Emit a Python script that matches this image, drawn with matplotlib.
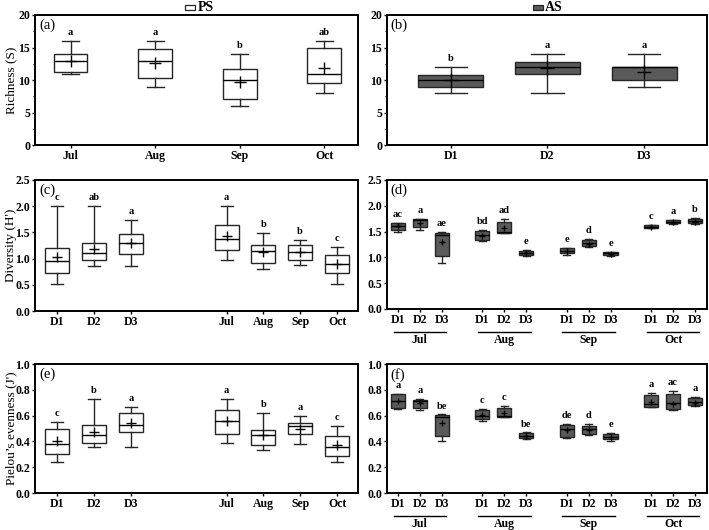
import matplotlib.pyplot as plt
from matplotlib.patches import Rectangle
from matplotlib.ticker import MultipleLocator
import matplotlib.transforms as mtransforms

plt.rcParams['font.family'] = ['Liberation Serif', 'DejaVu Serif']

months = ['Jul', 'Aug', 'Sep', 'Oct']
depths = ['D1', 'D2', 'D3']
mixed_labels = depths + months

# each row: whisker low, Q1, median, Q3, whisker high, mean
rich_ps = [[11, 11.3, 13, 14, 16, 13.0],
           [9, 10.3, 13, 14.7, 16, 12.6],
           [6, 7.1, 10, 11.7, 14, 9.7],
           [8, 9.5, 11, 15, 16, 11.8]]
rich_as = [[8, 9, 10, 10.8, 12, 10.0],
           [8, 11, 12, 12.7, 14, 11.8],
           [9, 10, 12, 12, 14, 11.3]]
rich_ps_letters = ['a', 'a', 'b', 'ab']
rich_as_letters = ['b', 'a', 'a']

# D1, D2, D3, Jul, Aug, Sep, Oct
div_ps = [[0.52, 0.73, 0.96, 1.21, 2.0, 1.03],
          [0.85, 0.98, 1.10, 1.30, 2.0, 1.18],
          [0.86, 1.08, 1.29, 1.46, 1.74, 1.29],
          [0.98, 1.17, 1.38, 1.65, 2.0, 1.43],
          [0.80, 0.92, 1.14, 1.26, 1.49, 1.13],
          [0.87, 0.97, 1.13, 1.26, 1.35, 1.12],
          [0.52, 0.72, 0.89, 1.06, 1.23, 0.89]]
div_ps_letters = ['c', 'ab', 'a', 'a', 'b', 'b', 'c']

# Jul D1-D3, Aug D1-D3, Sep D1-D3, Oct D1-D3
div_as = [[1.50, 1.53, 1.60, 1.66, 1.67, 1.61],
          [1.54, 1.59, 1.72, 1.74, 1.75, 1.67],
          [0.90, 1.02, 1.43, 1.48, 1.50, 1.29],
          [1.31, 1.34, 1.43, 1.51, 1.53, 1.41],
          [1.47, 1.48, 1.50, 1.68, 1.75, 1.56],
          [1.03, 1.04, 1.09, 1.13, 1.15, 1.08],
          [1.05, 1.08, 1.13, 1.18, 1.19, 1.12],
          [1.20, 1.22, 1.28, 1.34, 1.36, 1.25],
          [1.03, 1.04, 1.08, 1.10, 1.11, 1.07],
          [1.56, 1.57, 1.59, 1.62, 1.63, 1.59],
          [1.65, 1.66, 1.69, 1.72, 1.73, 1.68],
          [1.65, 1.66, 1.70, 1.74, 1.76, 1.69]]
div_as_letters = ['ac', 'a', 'ae', 'bd', 'ad', 'e', 'e', 'd', 'e', 'c', 'a', 'b']

even_ps = [[0.24, 0.30, 0.38, 0.50, 0.55, 0.40],
           [0.36, 0.39, 0.45, 0.53, 0.73, 0.47],
           [0.36, 0.47, 0.53, 0.62, 0.67, 0.54],
           [0.39, 0.46, 0.56, 0.64, 0.73, 0.56],
           [0.33, 0.37, 0.45, 0.49, 0.62, 0.45],
           [0.38, 0.46, 0.52, 0.54, 0.60, 0.50],
           [0.24, 0.29, 0.36, 0.44, 0.52, 0.37]]
even_ps_letters = ['c', 'b', 'a', 'a', 'b', 'a', 'c']

even_as = [[0.655, 0.657, 0.714, 0.765, 0.77, 0.71],
           [0.64, 0.657, 0.71, 0.72, 0.727, 0.696],
           [0.405, 0.443, 0.588, 0.606, 0.61, 0.54],
           [0.56, 0.572, 0.60, 0.64, 0.652, 0.605],
           [0.588, 0.588, 0.60, 0.662, 0.675, 0.62],
           [0.417, 0.423, 0.443, 0.464, 0.47, 0.44],
           [0.425, 0.438, 0.495, 0.528, 0.536, 0.49],
           [0.45, 0.459, 0.495, 0.52, 0.536, 0.485],
           [0.407, 0.415, 0.438, 0.456, 0.464, 0.435],
           [0.665, 0.665, 0.688, 0.76, 0.778, 0.709],
           [0.64, 0.65, 0.70, 0.768, 0.789, 0.69],
           [0.675, 0.68, 0.709, 0.735, 0.747, 0.70]]
even_as_letters = ['a', 'a', 'be', 'c', 'c', 'be', 'de', 'd', 'e', 'a', 'ac', 'a']

PS_FACE = 'white'
AS_FACE = '#5a5a5a'
EDGE = '#262626'

pos_4 = [0, 1, 2, 3]
pos_3 = [0, 1, 2]
pos_mixed = [0, 1, 2, 4.6, 5.6, 6.6, 7.6]
group_step = 3.85
pos_grouped = [g * group_step + i for g in range(4) for i in range(3)]


def draw_boxes(ax, rows, positions, width, face, msize, letters, ymax):
    stats = []
    for r in rows:
        stats.append(dict(whislo=r[0], q1=r[1], med=r[2], q3=r[3],
                          whishi=r[4], mean=r[5], fliers=[]))
    ax.bxp(stats, positions=positions, widths=width, patch_artist=True,
           showmeans=True, showfliers=False, capwidths=width * 0.5,
           boxprops=dict(facecolor=face, edgecolor=EDGE, linewidth=1.0),
           whiskerprops=dict(color=EDGE, linewidth=1.0),
           capprops=dict(color=EDGE, linewidth=1.0),
           medianprops=dict(color='black', linewidth=1.0),
           meanprops=dict(marker='+', markeredgecolor='black',
                          markersize=msize, markeredgewidth=1.0))
    for p, r, t in zip(positions, rows, letters):
        ax.text(p, r[4] + 0.045 * ymax, t, ha='center', va='baseline',
                fontsize=7.5, fontweight='bold')


def style(ax, ymax, major, minor, tag):
    ax.set_ylim(0, ymax)
    ax.yaxis.set_major_locator(MultipleLocator(major))
    if minor:
        ax.yaxis.set_minor_locator(MultipleLocator(minor))
    for s in ax.spines.values():
        s.set_linewidth(1.4)
    ax.tick_params(axis='both', which='major', direction='out', length=2.5,
                   width=1.0, labelsize=8.5, pad=1.0)
    ax.tick_params(axis='y', which='minor', direction='out', length=1.6, width=0.8)
    for lab in ax.get_xticklabels() + ax.get_yticklabels():
        lab.set_fontweight('bold')
    ax.text(0.012, 0.97, tag, transform=ax.transAxes, ha='left', va='top',
            fontsize=10.5)


fig = plt.figure(figsize=(7.09, 5.30), dpi=100)
lx, rx = 0.0494, 0.5458
lw, rw = 0.4556, 0.4514
ax_a = fig.add_axes([lx, 0.7264, lw, 0.2453])
ax_b = fig.add_axes([rx, 0.7264, rw, 0.2453])
ax_c = fig.add_axes([lx, 0.4132, lw, 0.2472])
ax_d = fig.add_axes([rx, 0.4170, rw, 0.2434])
ax_e = fig.add_axes([lx, 0.0698, lw, 0.2434])
ax_f = fig.add_axes([rx, 0.0698, rw, 0.2434])

# (a) richness PS
draw_boxes(ax_a, rich_ps, pos_4, 0.4, PS_FACE, 8, rich_ps_letters, 20)
ax_a.set_xlim(-0.42, 3.4)
ax_a.set_xticks(pos_4)
ax_a.set_xticklabels(months)
style(ax_a, 20, 5, 2.5, '(a)')
ax_a.set_ylabel('Richness (S)', fontsize=9.5)

# (b) richness AS
draw_boxes(ax_b, rich_as, pos_3, 0.67, AS_FACE, 10, rich_as_letters, 20)
ax_b.set_xlim(-0.66, 2.65)
ax_b.set_xticks(pos_3)
ax_b.set_xticklabels(depths)
style(ax_b, 20, 5, 2.5, '(b)')

# (c) diversity PS
draw_boxes(ax_c, div_ps, pos_mixed, 0.65, PS_FACE, 7, div_ps_letters, 2.5)
ax_c.set_xlim(-0.6, 8.17)
ax_c.set_xticks(pos_mixed)
ax_c.set_xticklabels(mixed_labels)
style(ax_c, 2.5, 0.5, None, '(c)')
ax_c.set_ylabel("Diversity (H')", fontsize=9.5)

# (e) evenness PS
draw_boxes(ax_e, even_ps, pos_mixed, 0.65, PS_FACE, 7, even_ps_letters, 1.0)
ax_e.set_xlim(-0.6, 8.17)
ax_e.set_xticks(pos_mixed)
ax_e.set_xticklabels(mixed_labels)
style(ax_e, 1.0, 0.2, None, '(e)')
ax_e.set_ylabel('Pielou\u2019s evenness (J\')', fontsize=9.5)

# ylabel anchor is its right edge (va='bottom' after rotation)
for ax in (ax_a, ax_c, ax_e):
    ax.yaxis.set_label_coords(-0.056, 0.5)

# (d), (f) grouped by month
for ax, rows, lets, ymax, major, tag in [
        (ax_d, div_as, div_as_letters, 2.5, 0.5, '(d)'),
        (ax_f, even_as, even_as_letters, 1.0, 0.2, '(f)')]:
    draw_boxes(ax, rows, pos_grouped, 0.65, AS_FACE, 4, lets, ymax)
    ax.set_xlim(-0.5, pos_grouped[-1] + 0.55)
    ax.set_xticks(pos_grouped)
    ax.set_xticklabels(depths * 4)
    style(ax, ymax, major, None, tag)
    trans = mtransforms.blended_transform_factory(ax.transData, ax.transAxes)
    for g, m in enumerate(months):
        x0 = pos_grouped[g * 3] - 0.2
        x1 = pos_grouped[g * 3 + 2] + 0.2
        ax.plot([x0, x1], [-0.18, -0.18], color='black', lw=1.0,
                transform=trans, clip_on=False)
        ax.text((x0 + x1) / 2, -0.24, m, transform=trans, ha='center',
                va='center', fontsize=8.5, fontweight='bold')

# top legend
fig.patches.append(Rectangle((0.261, 0.982), 0.0141, 0.0094,
                             transform=fig.transFigure, facecolor=PS_FACE,
                             edgecolor=EDGE, lw=0.9))
fig.text(0.279, 0.9867, 'PS', ha='left', va='center', fontsize=10,
         fontweight='bold')
fig.patches.append(Rectangle((0.752, 0.982), 0.0141, 0.0094,
                             transform=fig.transFigure, facecolor=AS_FACE,
                             edgecolor=EDGE, lw=0.9))
fig.text(0.769, 0.9867, 'AS', ha='left', va='center', fontsize=10,
         fontweight='bold')

fig.savefig('out.png', dpi=100)
